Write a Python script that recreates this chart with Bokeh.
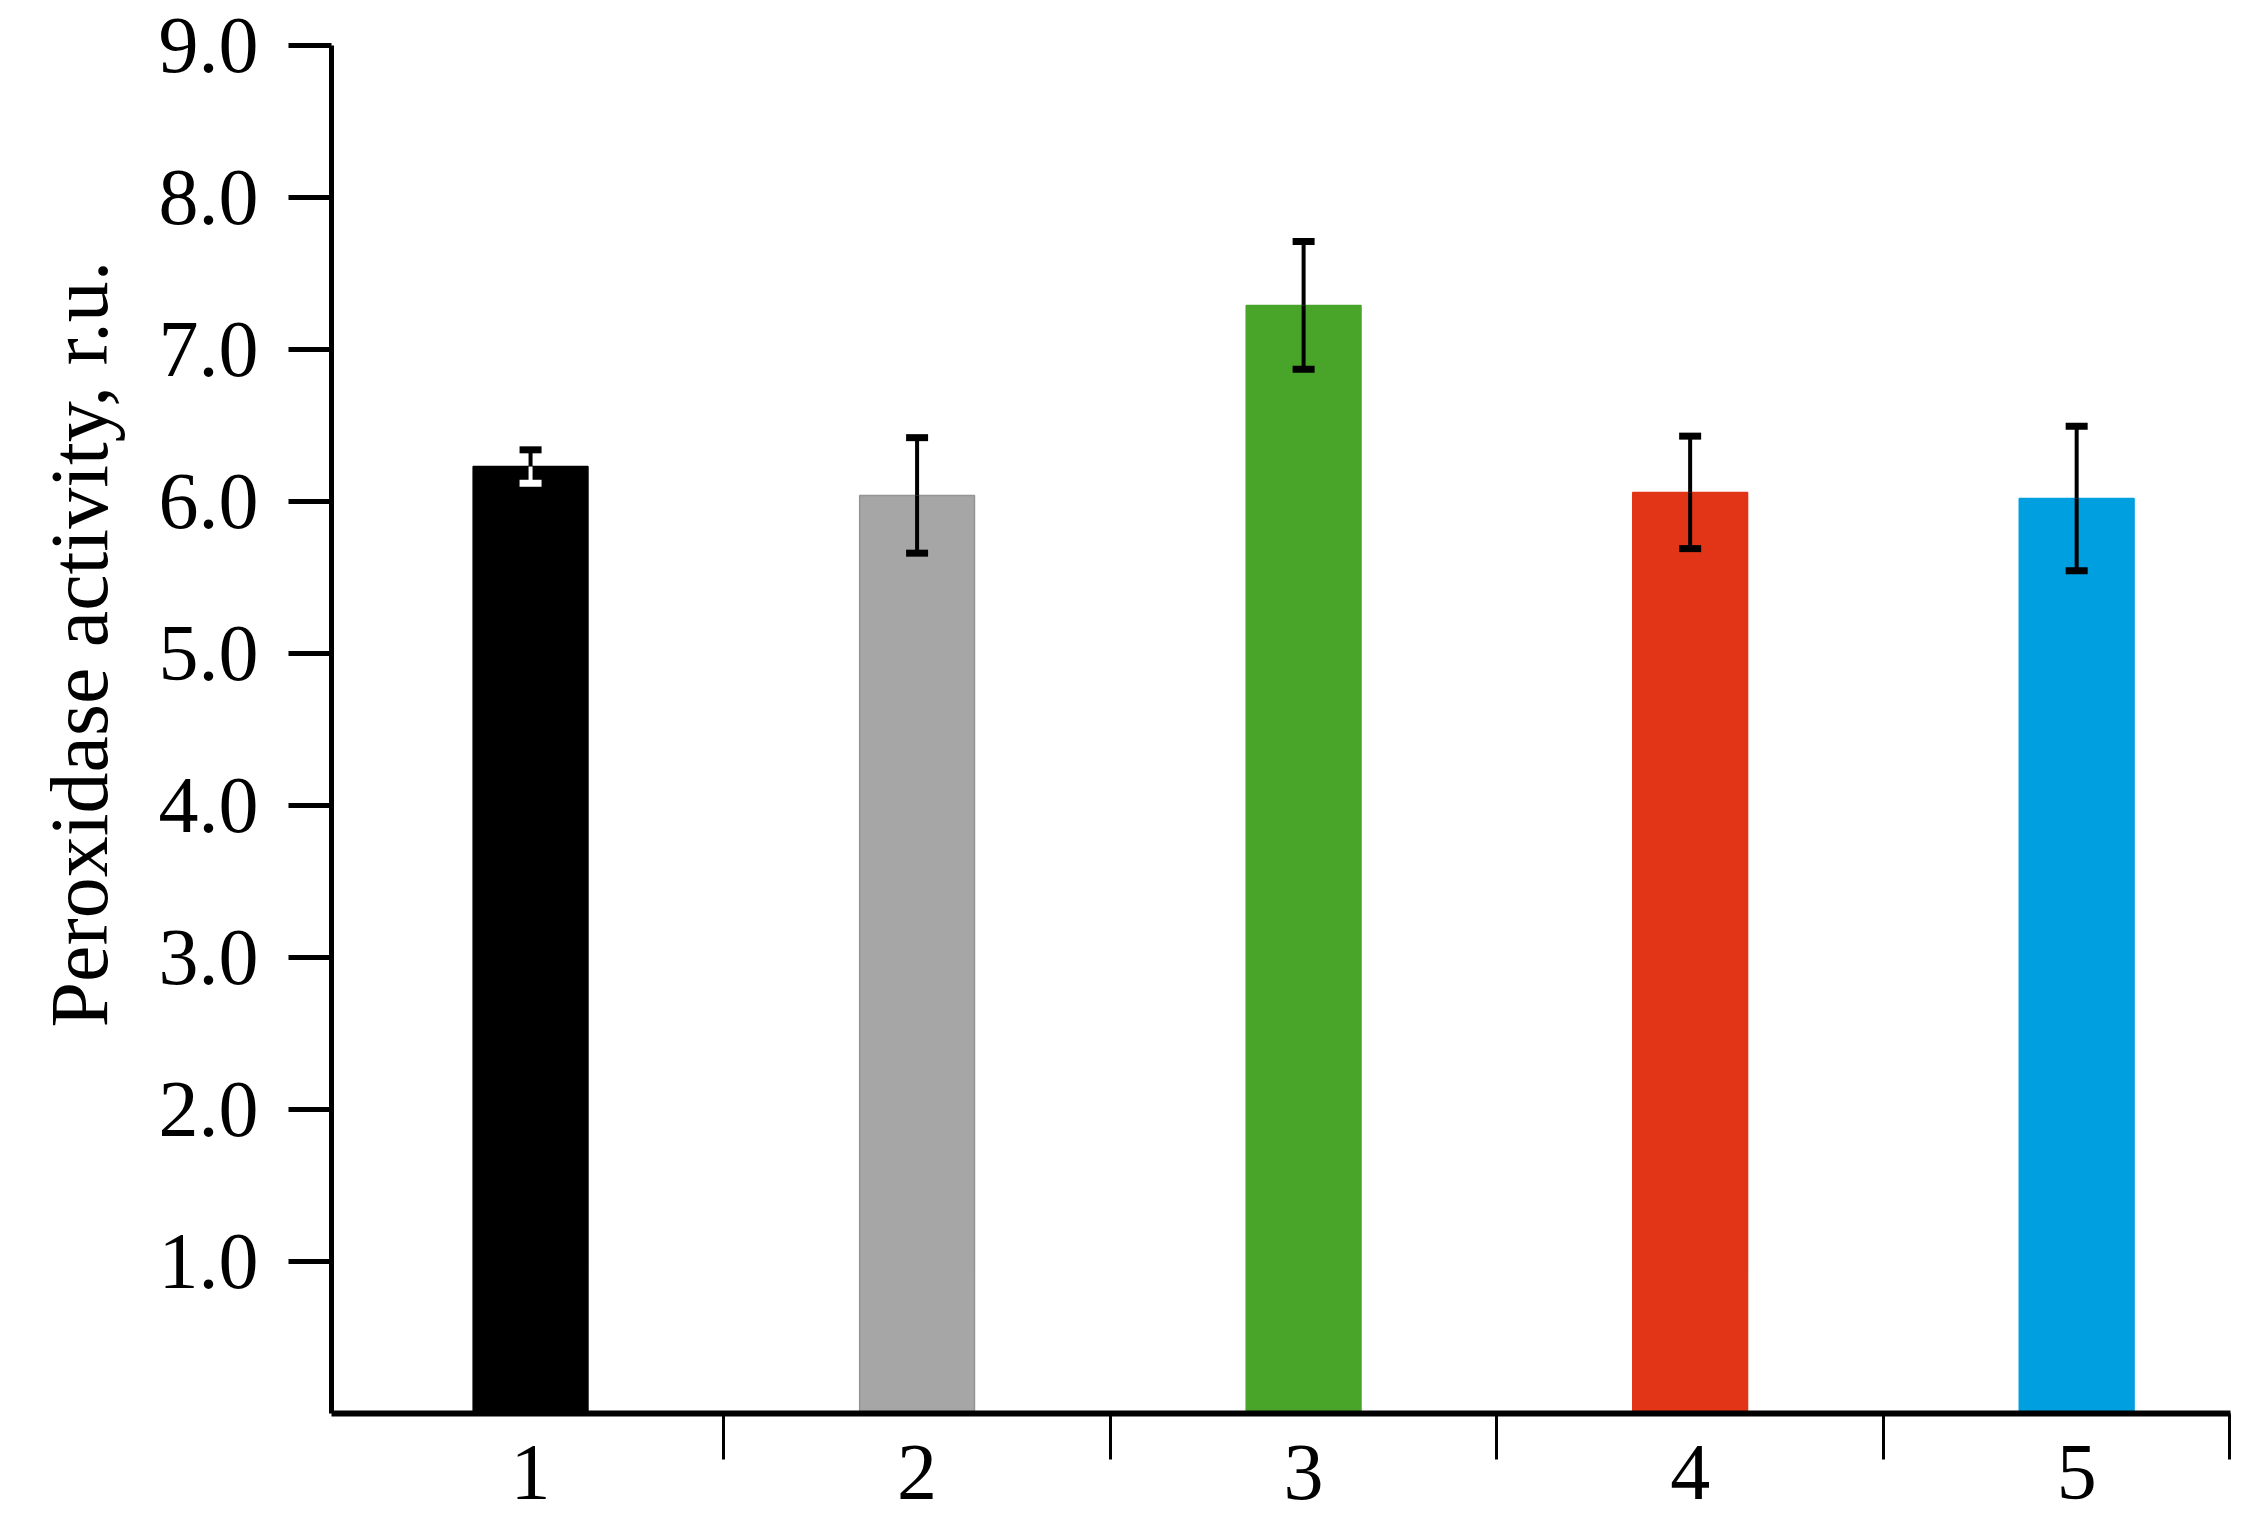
from bokeh.plotting import figure
from bokeh.models import Range1d, FixedTicker, ColumnDataSource, Title
from bokeh.embed import file_html
from bokeh.resources import INLINE

# ---- data ----
categories = ["1", "2", "3", "4", "5"]
positions = [1, 2, 3, 4, 5]
values = [6.23, 6.04, 7.29, 6.06, 6.02]
errors = [0.11, 0.38, 0.42, 0.37, 0.475]
bar_colors = ["#000000", "#a6a6a6", "#49a52a", "#e23517", "#009fe0"]
bar_line_colors = ["#000000", "#949494", "#49a52a", "#e23517", "#009fe0"]
lower_err_colors = ["#ffffff", "#000000", "#000000", "#000000", "#000000"]
y_ticks = [1, 2, 3, 4, 5, 6, 7, 8, 9]
y_tick_labels = ["1.0", "2.0", "3.0", "4.0", "5.0", "6.0", "7.0", "8.0", "9.0"]
x_boundaries = [1.5, 2.5, 3.5, 4.5, 5.395]
y_title = "Peroxidase activity, r.u."

FONT = "Liberation Serif"

src = ColumnDataSource(dict(
    x=positions, top=values,
    hi=[v + e for v, e in zip(values, errors)],
    lo=[v - e for v, e in zip(values, errors)],
    fill=bar_colors, line=bar_line_colors, lowc=lower_err_colors,
))

p = figure(width=2245, height=1522, output_backend="svg", toolbar_location=None,
           x_range=Range1d(0.485, 5.398), y_range=Range1d(0, 9),
           min_border_left=331, min_border_top=45, min_border_right=15,
           min_border_bottom=109)
p.outline_line_color = None
p.grid.visible = False
p.background_fill_color = "white"
p.border_fill_color = "white"

p.vbar(x="x", top="top", width=0.297, bottom=0, source=src,
       fill_color="fill", line_color="line", line_width=1.5)

# error bars: upper half black, lower half colour per bar
p.segment(x0="x", y0="top", x1="x", y1="hi", source=src, line_color="black", line_width=4)
p.segment(x0="x", y0="lo", x1="x", y1="top", source=src, line_color="lowc", line_width=4)
p.rect(x="x", y="hi", width=22, height=7, width_units="screen", height_units="screen",
       source=src, fill_color="black", line_color=None)
p.rect(x="x", y="lo", width=22, height=7, width_units="screen", height_units="screen",
       source=src, fill_color="lowc", line_color=None)

# x axis
xa = p.xaxis[0]
xa.ticker = FixedTicker(ticks=positions, minor_ticks=x_boundaries)
xa.major_label_overrides = {pos: c for pos, c in zip(positions, categories)}
xa.major_tick_out = 0
xa.major_tick_in = 0
xa.minor_tick_out = 46
xa.minor_tick_in = 0
xa.minor_tick_line_width = 3
xa.minor_tick_line_color = "black"
xa.axis_line_width = 6
xa.axis_line_color = "black"
xa.major_label_text_font = FONT
xa.major_label_text_font_size = "80px"
xa.major_label_text_color = "black"
xa.major_label_standoff = -14

# y axis (line, ticks, tick labels)
ya = p.yaxis[0]
ya.ticker = FixedTicker(ticks=y_ticks, minor_ticks=[])
ya.major_label_overrides = {t: s for t, s in zip(y_ticks, y_tick_labels)}
ya.major_tick_out = 43
ya.major_tick_in = 0
ya.major_tick_line_width = 5
ya.major_tick_line_color = "black"
ya.axis_line_width = 5
ya.axis_line_color = "black"
ya.major_label_text_font = FONT
ya.major_label_text_font_size = "80px"
ya.major_label_text_color = "black"
ya.major_label_standoff = 30

# y-axis title as a side title, so it can sit higher like the original
ytitle = Title(text=y_title, align="left", offset=386, standoff=62,
               text_font=FONT, text_font_size="82px", text_font_style="normal",
               text_color="black")
p.add_layout(ytitle, "left")

open("out.html", "w").write(file_html(p, INLINE))
